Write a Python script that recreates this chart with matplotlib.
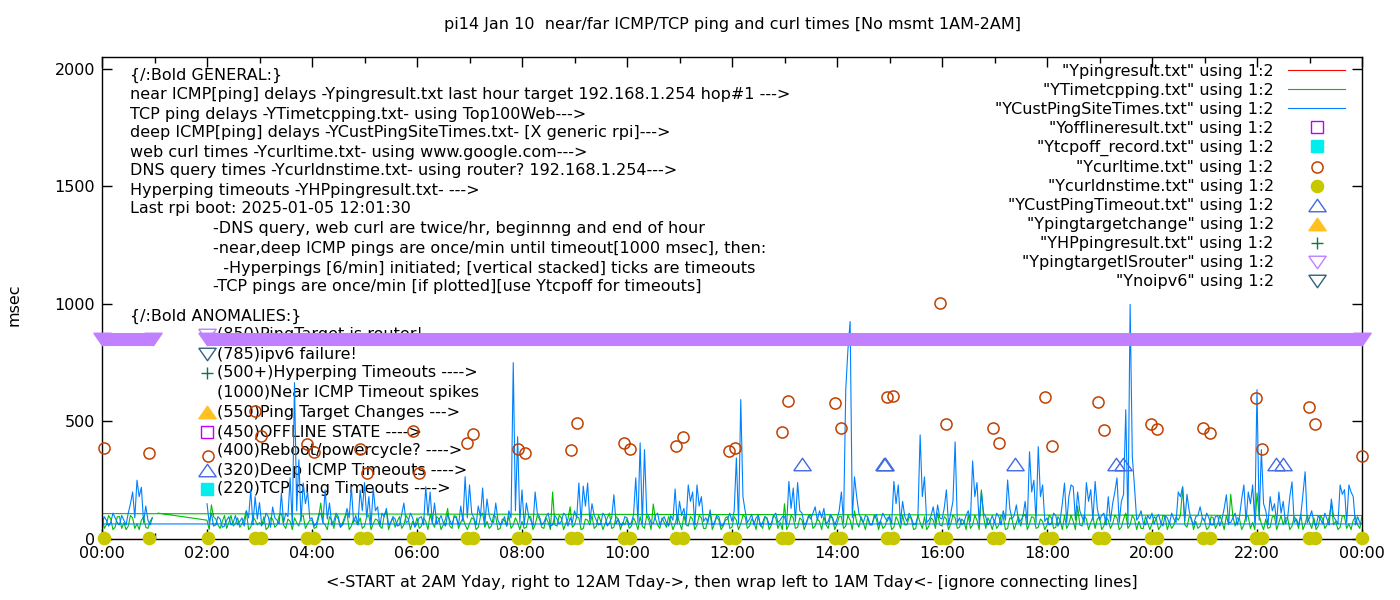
import numpy as np
import matplotlib
matplotlib.use("Agg")
import matplotlib.pyplot as plt

# --- data (hours of day, msec) ---
# deep ICMP ping (YCustPingSiteTimes), samples every 5 min from 02:00 to 24:00
cust_ping_day = [
    150, 110, 60, 85, 55, 95, 70, 60, 90, 120, 209, 180,      # 02h
    155, 70, 95, 136, 80, 196, 110, 260, 665, 337, 238, 200,  # 03h
    90, 65, 110, 209, 153, 75, 95, 60, 130, 222, 100, 209,    # 04h
    240, 180, 215, 137, 110, 130, 70, 85, 60, 153, 75, 90,    # 05h
    65, 95, 222, 200, 153, 80, 70, 105, 60, 90, 140, 265,     # 06h
    230, 90, 140, 217, 170, 75, 153, 60, 95, 120, 750, 435,   # 07h
    209, 153, 80, 200, 95, 70, 110, 60, 85, 75, 100, 90,      # 08h
    120, 238, 225, 238, 150, 80, 65, 95, 70, 188, 85, 60,     # 09h
    90, 70, 260, 409, 380, 95, 65, 110, 80, 70, 100, 213,     # 10h
    160, 130, 230, 200, 230, 180, 90, 124, 70, 95, 60, 85,    # 11h
    75, 345, 593, 120, 85, 60, 100, 70, 90, 65, 110, 80,      # 12h
    95, 245, 217, 240, 110, 70, 85, 137, 120, 130, 75, 90,    # 13h
    85, 200, 635, 925, 264, 110, 70, 95, 60, 105, 80, 90,     # 14h
    100, 245, 230, 160, 75, 90, 65, 443, 264, 80, 137, 145,   # 15h
    85, 209, 110, 413, 90, 70, 120, 332, 240, 200, 95, 75,    # 16h
    70, 95, 120, 251, 85, 145, 80, 160, 371, 250, 393, 230,   # 17h
    90, 65, 100, 80, 238, 180, 222, 200, 95, 240, 210, 245,   # 18h
    80, 110, 180, 150, 260, 160, 550, 998, 222, 95, 70, 100,  # 19h
    110, 90, 70, 100, 65, 85, 200, 222, 190, 80, 95, 137,     # 20h
    75, 90, 60, 100, 85, 188, 70, 110, 95, 230, 200, 230,     # 21h
    635, 380, 120, 180, 150, 200, 160, 90, 243, 85, 100, 286, # 22h
    90, 70, 100, 65, 85, 170, 80, 230, 210, 230, 180, 95,     # 23h
    64,                                                       # 24:00
]
# the samples in between (2.5 min later)
cust_ping_day_mid = [
    70, 55, 95, 50, 80, 60, 100, 75, 55, 90, 60, 85,          # 02h
    60, 110, 50, 90, 65, 70, 95, 60, 120, 75, 150, 85,        # 03h
    55, 100, 70, 85, 60, 110, 50, 85, 90, 70, 60, 120,        # 04h
    90, 60, 120, 55, 95, 60, 95, 55, 105, 70, 110, 50,        # 05h
    90, 60, 100, 70, 65, 100, 55, 80, 95, 60, 75, 90,         # 06h
    110, 60, 95, 65, 100, 70, 80, 70, 55, 90, 120, 70,        # 07h
    60, 100, 55, 110, 60, 95, 55, 100, 65, 110, 55, 70,       # 08h
    90, 70, 140, 75, 100, 60, 110, 55, 90, 65, 60, 95,        # 09h
    60, 105, 70, 65, 110, 70, 100, 60, 95, 55, 80, 65,        # 10h
    100, 70, 160, 60, 140, 75, 70, 60, 100, 55, 80, 110,      # 11h
    120, 65, 180, 70, 105, 90, 55, 95, 60, 100, 70, 95,       # 12h
    60, 130, 75, 120, 60, 100, 110, 80, 90, 65, 105, 60,      # 13h
    120, 70, 806, 90, 180, 85, 100, 65, 90, 60, 110, 75,      # 14h
    65, 150, 70, 95, 110, 60, 100, 180, 70, 100, 70, 90,      # 15h
    130, 60, 160, 70, 60, 100, 75, 180, 65, 110, 60, 100,     # 16h
    110, 60, 80, 130, 100, 70, 95, 65, 200, 70, 180, 75,      # 17h
    60, 110, 55, 150, 70, 230, 80, 120, 70, 160, 80, 130,     # 18h
    100, 60, 75, 200, 70, 190, 65, 350, 80, 120, 60, 85,      # 19h
    65, 105, 55, 90, 110, 70, 180, 75, 120, 60, 100, 90,      # 20h
    110, 60, 95, 55, 130, 70, 90, 60, 170, 75, 150, 70,       # 21h
    80, 150, 60, 120, 70, 110, 65, 180, 70, 60, 190, 70,      # 22h
    120, 55, 85, 110, 60, 95, 65, 190, 70, 200, 60, 70,       # 23h
]
# wrapped part 00:00 - 00:57
cust_ping_night = [64, 80, 70, 90, 60, 80, 110, 200, 250, 220, 140, 60]
cust_ping_night_mid = [95, 55, 110, 70, 100, 60, 150, 90, 180, 70, 80, 90]

# TCP ping (YTimetcpping)
tcp_lead_h, tcp_lead_ms = 1.07, 110
tcp_day = [
    80, 145, 85, 45, 100, 70, 55, 90, 65, 120, 50, 80,   # 02h
    70, 95, 50, 85, 60, 110, 45, 75, 90, 55, 100, 65,    # 03h
    80, 50, 153, 60, 95, 45, 85, 70, 110, 55, 75, 90,    # 04h
    55, 100, 65, 80, 45, 120, 70, 50, 95, 60, 85, 75,    # 05h
    90, 55, 75, 105, 50, 85, 60, 130, 45, 95, 70, 60,    # 06h
    65, 85, 50, 110, 75, 55, 95, 45, 80, 100, 60, 70,    # 07h
    75, 50, 95, 60, 85, 45, 70, 200, 55, 90, 65, 137,    # 08h
    60, 90, 45, 80, 100, 55, 75, 65, 110, 50, 85, 70,    # 09h
    85, 55, 70, 95, 45, 80, 149, 60, 90, 50, 75, 65,     # 10h
    70, 100, 55, 85, 60, 90, 45, 110, 65, 80, 55, 95,    # 11h
    50, 80, 65, 95, 55, 75, 100, 45, 85, 60, 90, 70,     # 12h
    150, 60, 90, 50, 80, 65, 105, 55, 75, 95, 45, 85,    # 13h
    65, 95, 55, 80, 120, 50, 70, 90, 60, 85, 75, 55,     # 14h
    90, 50, 75, 100, 60, 85, 45, 70, 95, 55, 80, 110,    # 15h
    55, 85, 65, 90, 50, 75, 100, 60, 80, 209, 45, 70,    # 16h
    80, 60, 95, 45, 85, 70, 55, 105, 65, 90, 50, 75,     # 17h
    60, 90, 50, 80, 100, 65, 75, 140, 55, 85, 70, 45,    # 18h
    95, 55, 80, 65, 90, 50, 110, 60, 85, 75, 45, 70,     # 19h
    65, 85, 55, 95, 70, 60, 80, 222, 50, 90, 75, 55,     # 20h
    80, 50, 90, 65, 75, 100, 190, 55, 85, 60, 95, 70,    # 21h
    196, 65, 85, 50, 95, 70, 60, 90, 55, 80, 105, 65,    # 22h
    70, 90, 55, 85, 60, 150, 75, 50, 95, 65, 80, 60,     # 23h
    100,                                                 # 24:00
]
tcp_day_mid = [
    40, 95, 60, 75, 45, 100, 65, 50, 85, 40, 95, 60,     # 02h
    55, 40, 90, 50, 100, 60, 85, 40, 70, 95, 45, 80,     # 03h
    45, 90, 70, 40, 80, 100, 50, 95, 40, 85, 60, 45,     # 04h
    95, 40, 85, 55, 100, 40, 90, 75, 45, 100, 40, 55,    # 05h
    45, 90, 40, 70, 95, 40, 85, 55, 100, 45, 90, 40,     # 06h
    90, 40, 95, 50, 45, 100, 40, 85, 55, 45, 90, 40,     # 07h
    45, 95, 40, 100, 50, 90, 40, 60, 100, 40, 85, 50,    # 08h
    95, 40, 85, 60, 45, 100, 40, 90, 45, 95, 40, 60,     # 09h
    45, 90, 40, 55, 100, 40, 85, 45, 70, 95, 40, 100,    # 10h
    40, 60, 95, 40, 100, 45, 85, 40, 95, 40, 90, 45,     # 11h
    95, 40, 100, 45, 85, 40, 60, 95, 40, 100, 45, 40,    # 12h
    40, 100, 45, 90, 40, 95, 45, 85, 40, 60, 100, 40,    # 13h
    95, 45, 100, 40, 70, 95, 40, 60, 100, 40, 45, 90,    # 14h
    40, 95, 45, 60, 95, 40, 100, 45, 40, 90, 45, 60,     # 15h
    95, 40, 100, 45, 85, 40, 45, 100, 40, 95, 90, 40,    # 16h
    45, 100, 40, 90, 40, 95, 100, 40, 95, 45, 85, 40,    # 17h
    100, 45, 95, 40, 45, 100, 40, 60, 100, 40, 95, 85,   # 18h
    40, 95, 45, 100, 40, 85, 45, 100, 40, 45, 95, 40,    # 19h
    95, 40, 100, 40, 45, 95, 100, 60, 95, 40, 45, 90,    # 20h
    40, 95, 45, 100, 40, 60, 95, 90, 40, 100, 45, 40,    # 21h
    100, 40, 45, 95, 40, 100, 90, 40, 95, 45, 40, 100,   # 22h
    45, 40, 100, 45, 95, 60, 40, 100, 45, 40, 95, 45,    # 23h
]
tcp_night = [108, 60, 85, 50, 95, 70, 55, 90, 65, 80, 50, 75]
tcp_night_mid = [45, 100, 40, 95, 45, 40, 100, 45, 40, 95, 45, 90]

# near ICMP (Ypingresult), last hour only, sits on the axis
near_ping = [1, 1, 1, 1, 1, 1, 1, 1, 1, 1, 1, 1]

# web curl times (Ycurltime) and DNS query times (Ycurldnstime)
curl_h = [0.03, 0.90, 2.02, 2.91, 3.03, 3.90, 4.04, 4.91, 5.04, 5.92, 6.04,
          6.95, 7.06, 7.93, 8.05, 8.93, 9.05, 9.95, 10.06, 10.94, 11.07,
          11.95, 12.06, 12.96, 13.07, 13.97, 14.08, 14.95, 15.07, 15.96,
          16.08, 16.98, 17.09, 17.96, 18.10, 18.98, 19.09, 19.99, 20.10,
          20.98, 21.11, 21.99, 22.10, 22.99, 23.10, 24.0]
curl_ms = [387, 365, 351, 543, 439, 405, 371, 382, 280, 458, 280,
           408, 446, 384, 365, 380, 495, 408, 384, 397, 434,
           375, 387, 456, 587, 579, 472, 605, 610, 1002,
           489, 472, 408, 604, 397, 583, 463, 490, 468,
           473, 451, 600, 382, 562, 489, 353]
dns_ms = [3, 4, 3, 5, 3, 4, 3, 4, 5, 3, 4,
          3, 4, 5, 3, 4, 3, 4, 3, 5, 4,
          3, 4, 3, 5, 4, 3, 4, 3, 5,
          4, 3, 4, 3, 5, 4, 3, 4, 3,
          5, 4, 3, 4, 3, 5, 4]

# deep ICMP timeouts (YCustPingTimeout)
cust_timeout_h = [13.33, 14.90, 14.92, 17.40, 19.32, 19.45, 22.37, 22.50]
cust_timeout_ms = [320, 320, 320, 320, 320, 320, 320, 320]

# ping target is router (YpingtargetISrouter): active spans
router_spans = [(0.0, 0.97), (2.0, 24.0)]
router_ms = 850

# series with no points this day
offline_h, offline_ms = [], []
tcpoff_h, tcpoff_ms = [], []
targetchange_h, targetchange_ms = [], []
hpping_h, hpping_ms = [], []
noipv6_h, noipv6_ms = [], []

xtick_labels = ["00:00", "02:00", "04:00", "06:00", "08:00", "10:00", "12:00",
                "14:00", "16:00", "18:00", "20:00", "22:00", "00:00"]

general_lines = [
    "{/:Bold GENERAL:}",
    "near ICMP[ping] delays -Ypingresult.txt last hour target 192.168.1.254 hop#1 --->",
    "TCP ping delays -YTimetcpping.txt- using Top100Web--->",
    "deep ICMP[ping] delays -YCustPingSiteTimes.txt- [X generic rpi]--->",
    "web curl times -Ycurltime.txt- using www.google.com--->",
    "DNS query times -Ycurldnstime.txt- using router? 192.168.1.254--->",
    "Hyperping timeouts -YHPpingresult.txt- --->",
    "Last rpi boot: 2025-01-05 12:01:30",
]
note_lines = [
    "-DNS query, web curl are twice/hr, beginnng and end of hour",
    "-near,deep ICMP pings are once/min until timeout[1000 msec], then:",
    "  -Hyperpings [6/min] initiated; [vertical stacked] ticks are timeouts",
    "-TCP pings are once/min [if plotted][use Ytcpoff for timeouts]",
]
anomaly_lines = [
    "(850)PingTarget is router!",
    "(785)ipv6 failure!",
    "(500+)Hyperping Timeouts ---->",
    "(1000)Near ICMP Timeout spikes",
    "(550)Ping Target Changes --->",
    "(450)OFFLINE STATE ---->",
    "(400)Reboot/powercycle? ---->",
    "(320)Deep ICMP Timeouts ---->",
    "(220)TCP ping Timeouts ---->",
]

# gnuplot classic palette
C_RED, C_GREEN, C_BLUE = "#ff0000", "#00c000", "#0080ff"
C_MAGENTA, C_CYAN, C_BROWN = "#c000ff", "#00eeee", "#c04000"
C_OLIVE, C_ROYAL, C_GOLD = "#c8c800", "#4169e1", "#ffc020"
C_DKGREEN, C_LAVENDER, C_SLATE = "#008040", "#c080ff", "#306080"

TRI_UP = [(-1, -0.72), (1, -0.72), (0, 0.72), (-1, -0.72)]
TRI_DN = [(-1, 0.72), (1, 0.72), (0, -0.72), (-1, 0.72)]

FS = 11.5
plt.rcParams["font.family"] = ["DejaVu Sans"]
plt.rcParams["font.size"] = FS

fig = plt.figure(figsize=(14, 6), dpi=100)
ax = fig.add_axes([102 / 1400, 61 / 600, 1260 / 1400, 482 / 600])


def interleave(t0, main, mid):
    # main samples every 5 min starting at t0, mid samples 2.5 min after each
    t = np.concatenate([t0 + np.arange(len(main)) / 12,
                        t0 + np.arange(len(mid)) / 12 + 1 / 24])
    v = np.concatenate([main, mid])
    order = np.argsort(t, kind="stable")
    return t[order], v[order]


cp_dt, cp_dv = interleave(2, cust_ping_day, cust_ping_day_mid)
cp_nt, cp_nv = interleave(0, cust_ping_night, cust_ping_night_mid)
tc_dt, tc_dv = interleave(2, tcp_day, tcp_day_mid)
tc_nt, tc_nv = interleave(0, tcp_night, tcp_night_mid)
near_t = np.arange(len(near_ping)) / 12

lw = 0.8
ax.plot(near_t, near_ping, color=C_RED, lw=lw, zorder=2,
        label='"Ypingresult.txt" using 1:2')
ax.plot(np.concatenate([[tcp_lead_h], tc_dt, tc_nt]),
        np.concatenate([[tcp_lead_ms], tc_dv, tc_nv]),
        color=C_GREEN, lw=lw, zorder=2, label='"YTimetcpping.txt" using 1:2')
ax.plot(np.concatenate([cp_dt, cp_nt]), np.concatenate([cp_dv, cp_nv]),
        color=C_BLUE, lw=lw, zorder=2, label='"YCustPingSiteTimes.txt" using 1:2')
ax.plot(offline_h, offline_ms, ls="none", marker="s", ms=9, mfc="none",
        mec=C_MAGENTA, mew=1, label='"Yofflineresult.txt" using 1:2')
ax.plot(tcpoff_h, tcpoff_ms, ls="none", marker="s", ms=9, color=C_CYAN,
        label='"Ytcpoff_record.txt" using 1:2')
ax.plot(curl_h, curl_ms, ls="none", marker="o", ms=8, mfc="none", mec=C_BROWN,
        mew=1.1, zorder=3, clip_on=False, label='"Ycurltime.txt" using 1:2')
ax.plot(curl_h, dns_ms, ls="none", marker="o", ms=8.8, color=C_OLIVE,
        zorder=3, clip_on=False, label='"Ycurldnstime.txt" using 1:2')
ax.plot(cust_timeout_h, cust_timeout_ms, ls="none", marker=TRI_UP, ms=12.5,
        mfc="none", mec=C_ROYAL, mew=1, zorder=3,
        label='"YCustPingTimeout.txt" using 1:2')
ax.plot(targetchange_h, targetchange_ms, ls="none", marker=TRI_UP, ms=12.5,
        color=C_GOLD, label='"Ypingtargetchange" using 1:2')
ax.plot(hpping_h, hpping_ms, ls="none", marker="+", ms=9, mew=1,
        color=C_DKGREEN, label='"YHPpingresult.txt" using 1:2')
# router-target band: once/min hollow triangles merge into a solid strip
for start, end in router_spans:
    ax.plot([start, end], [router_ms, router_ms], color=C_LAVENDER, lw=9.4,
            solid_capstyle="butt", zorder=4, clip_on=False)
    ax.plot([start, end], [router_ms, router_ms], ls="none", marker=TRI_DN,
            ms=12.5, color=C_LAVENDER, zorder=4, clip_on=False)
ax.plot([], [], ls="none", marker=TRI_DN, ms=12.5, mfc="none", mec=C_LAVENDER,
        mew=1, label='"YpingtargetISrouter" using 1:2')
ax.plot(noipv6_h, noipv6_ms, ls="none", marker=TRI_DN, ms=12.5, mfc="none",
        mec=C_SLATE, mew=1, label='"Ynoipv6" using 1:2')

ax.set_xlim(0, 24)
ax.set_ylim(0, 2050)
ax.set_xticks(np.arange(0, 25, 2))
ax.set_xticklabels(xtick_labels)
ax.set_xticks(np.arange(0, 25, 1), minor=True)
ax.set_yticks([0, 500, 1000, 1500, 2000])
ax.tick_params(which="both", direction="in", top=True, right=True,
               labelsize=FS, pad=5)
ax.tick_params(which="major", length=7, width=1)
ax.tick_params(which="minor", length=4, width=1)
for s in ax.spines.values():
    s.set_linewidth(1)


def ax_x(px):
    return (px - 102) / 1260


def ax_y(py):
    return (539 - py) / 482


leg = ax.legend(loc="upper right", bbox_to_anchor=(ax_x(1345), ax_y(64)),
                frameon=False, markerfirst=False, fontsize=FS,
                handlelength=3.56, handletextpad=0.9, labelspacing=0.25,
                borderaxespad=0, borderpad=0)

gen_y = [75, 95, 114, 133, 152, 171, 190, 209]
for txt, py in zip(general_lines, gen_y):
    ax.text(ax_x(130), ax_y(py), txt, transform=ax.transAxes, va="center",
            ha="left", fontsize=FS, zorder=1)
note_x = [213, 213, 213, 213]
note_y = [229, 248, 268, 287]
for txt, px, py in zip(note_lines, note_x, note_y):
    ax.text(ax_x(px), ax_y(py), txt, transform=ax.transAxes, va="center",
            ha="left", fontsize=FS, zorder=1)
ax.text(ax_x(130), ax_y(316), "{/:Bold ANOMALIES:}", transform=ax.transAxes,
        va="center", ha="left", fontsize=FS, zorder=1)

anom_y = [335, 354, 373, 392, 412, 432, 451, 470, 489]
anom_marks = [
    dict(marker=TRI_DN, mfc="none", mec=C_LAVENDER, mew=1, ms=12.5),
    dict(marker=TRI_DN, mfc="none", mec=C_SLATE, mew=1, ms=12.5),
    dict(marker="+", color=C_DKGREEN, mew=1, ms=9),
    None,
    dict(marker=TRI_UP, color=C_GOLD, ms=12.5),
    dict(marker="s", mfc="none", mec=C_MAGENTA, mew=1, ms=9),
    None,
    dict(marker=TRI_UP, mfc="none", mec=C_ROYAL, mew=1, ms=12.5),
    dict(marker="s", color=C_CYAN, ms=9),
]
for txt, py, mk in zip(anomaly_lines, anom_y, anom_marks):
    ax.text(ax_x(217), ax_y(py), txt, transform=ax.transAxes, va="center",
            ha="left", fontsize=FS, zorder=1)
    if mk is not None:
        ax.plot([ax_x(207)], [ax_y(py)], transform=ax.transAxes, ls="none",
                zorder=1, **mk)

fig.text(732 / 1400, 1 - 25 / 600,
         "pi14 Jan 10  near/far ICMP/TCP ping and curl times [No msmt 1AM-2AM]",
         ha="center", va="center", fontsize=FS)
fig.text(732 / 1400, 1 - 583 / 600,
         "<-START at 2AM Yday, right to 12AM Tday->, then wrap left to 1AM Tday<- [ignore connecting lines]",
         ha="center", va="center", fontsize=FS)
fig.text(14 / 1400, 1 - 305 / 600, "msec", rotation=90, ha="center",
         va="center", fontsize=FS)

fig.savefig("out.png", dpi=100)
